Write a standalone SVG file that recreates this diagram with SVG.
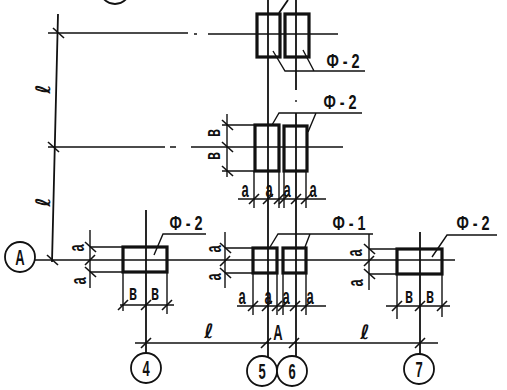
<svg xmlns="http://www.w3.org/2000/svg" width="507" height="390" viewBox="0 0 507 390">
<style>
.t{font-family:"Liberation Sans",Arial,sans-serif;font-weight:700;font-size:18px;fill:#111;text-anchor:middle;transform-box:fill-box;transform-origin:center;transform:scale(.72,1.25)}
.f{font-family:"Liberation Sans",Arial,sans-serif;font-weight:700;font-size:17px;fill:#111;text-anchor:middle;transform-box:fill-box;transform-origin:center;transform:scale(.85,1.2)}
.l{font-family:"DejaVu Sans",sans-serif;font-weight:700;font-size:20px;fill:#111;text-anchor:middle}
.thin{stroke:#111;stroke-width:1.4;fill:none}
.mid{stroke:#111;stroke-width:1.8;fill:none}
.col{stroke:#111;stroke-width:3.2;fill:none}
.c{stroke:#111;stroke-width:1.8;fill:#fff}
</style>
<defs>
<path id="f" d="M-5 5L5 -5" stroke="#111" stroke-width="1.6"/>
<path id="b" d="M-5 -5L6 5" stroke="#111" stroke-width="1.6"/>
</defs>
<rect width="507" height="390" fill="#fff"/>
<g id="connectors">
<path class="mid" d="M58 14L52 262M268 0V357M296 0V90M296 113V357M146 210V353M420 232V354"/>
<path class="thin" d="M48 33H188M194 34H197M208 34H338M48 147H165M170 147H176M191 147H343M35 260H193M190 260H455M296 100V102"/>
<path class="thin" d="M222 125H255M222 171H255M227 114V177M238 199H326M254 171V208M279 171V208M284 171V208M306 171V208"/>
<path class="thin" d="M90 230V288M90 247H123M90 272H123M120 305H174M123 272V311M167 272V314"/>
<path class="thin" d="M225 232V288M225 248H253M225 273H253M237 306H326M253 273V315M277 273V315M283 273V315M306 273V315"/>
<path class="thin" d="M369 234V290M369 249H397M369 274H397M386 306H450M397 274V319M442 274V317"/>
<path class="thin" d="M135 343H438"/>
<path class="mid" d="M279 13L288 0"/>
<path class="thin" d="M273 51L285 71H365M303 50L314 71M272 125L279 113H362M308 132L316 113M154 255L163 234H206M270 247L278 234H373M305 247L310 234M432 257L447 235H497"/>
<use href="#b" x="58" y="33"/><use href="#b" x="53" y="147"/><use href="#b" x="52" y="260"/>
<use href="#b" x="227" y="125"/><use href="#b" x="227" y="147"/><use href="#b" x="227" y="171"/>
<use href="#b" x="90" y="247"/><use href="#f" x="90" y="260"/><use href="#b" x="90" y="272"/>
<use href="#b" x="225" y="248"/><use href="#f" x="225" y="261"/><use href="#b" x="225" y="273"/>
<use href="#b" x="369" y="249"/><use href="#f" x="369" y="261"/><use href="#b" x="369" y="274"/>
<use href="#f" x="254" y="199"/><use href="#f" x="268" y="199"/><use href="#f" x="279" y="199"/><use href="#f" x="284" y="199"/><use href="#f" x="296" y="199"/><use href="#f" x="306" y="199"/>
<use href="#f" x="123" y="305"/><use href="#f" x="146" y="305"/><use href="#f" x="167" y="305"/>
<use href="#f" x="253" y="306"/><use href="#f" x="267" y="306"/><use href="#f" x="277" y="306"/><use href="#f" x="283" y="306"/><use href="#f" x="295" y="306"/><use href="#f" x="306" y="306"/>
<use href="#f" x="397" y="306"/><use href="#f" x="420" y="306"/><use href="#f" x="442" y="306"/>
<use href="#f" x="146" y="343"/><use href="#f" x="266" y="343"/><use href="#f" x="294" y="343"/><use href="#f" x="420" y="343"/>
</g>
<g id="column-top-left"><rect class="col" x="257" y="14" width="23" height="43"/></g>
<g id="column-top-right"><rect class="col" x="285" y="14" width="24" height="43"/></g>
<g id="column-mid-left"><rect class="col" x="255" y="125" width="24" height="46"/></g>
<g id="column-mid-right"><rect class="col" x="284" y="126" width="23" height="45"/></g>
<g id="column-a4"><rect class="col" x="123" y="247" width="44" height="25"/></g>
<g id="column-a5"><rect class="col" x="253" y="248" width="24" height="25"/></g>
<g id="column-a6"><rect class="col" x="283" y="248" width="23" height="25"/></g>
<g id="column-a7"><rect class="col" x="397" y="249" width="45" height="25"/></g>
<g id="axis-top"><circle class="c" cx="115" cy="-11" r="15"/></g>
<g id="axis-a"><circle class="c" cx="20" cy="257" r="15"/><text class="t" x="20" y="263">A</text></g>
<g id="axis-4"><circle class="c" cx="146" cy="368" r="15"/><text class="t" x="146" y="374">4</text></g>
<g id="axis-5"><circle class="c" cx="262" cy="371" r="15"/><text class="t" x="262" y="377">5</text></g>
<g id="axis-6"><circle class="c" cx="292" cy="371" r="15"/><text class="t" x="292" y="377">6</text></g>
<g id="axis-7"><circle class="c" cx="419" cy="369" r="15"/><text class="t" x="419" y="375">7</text></g>
<g id="labels">
<text class="f" x="343" y="67">Ф - 2</text>
<text class="f" x="340" y="108">Ф - 2</text>
<text class="f" x="186" y="229">Ф - 2</text>
<text class="f" x="349" y="229">Ф - 1</text>
<text class="f" x="473" y="229">Ф - 2</text>
<text class="t" x="245" y="195">a</text><text class="t" x="269" y="195">a</text><text class="t" x="287" y="195">a</text><text class="t" x="313" y="195">a</text>
<text class="t" x="242" y="302">a</text><text class="t" x="268" y="302">a</text><text class="t" x="286" y="302">a</text><text class="t" x="310" y="302">a</text>
<text class="t" x="133" y="298">в</text><text class="t" x="155" y="298">в</text><text class="t" x="409" y="301">в</text><text class="t" x="430" y="301">в</text>
<g transform="translate(218 133) rotate(-90)"><text class="t">в</text></g><g transform="translate(218 156) rotate(-90)"><text class="t">в</text></g>
<g transform="translate(82 248) rotate(-90)"><text class="t">a</text></g><g transform="translate(84 281) rotate(-90)"><text class="t">a</text></g>
<g transform="translate(219 249) rotate(-90)"><text class="t">a</text></g><g transform="translate(219 277) rotate(-90)"><text class="t">a</text></g>
<g transform="translate(360 253) rotate(-90)"><text class="t">a</text></g><g transform="translate(361 283) rotate(-90)"><text class="t">a</text></g>
<g transform="translate(50 89) rotate(-90)"><text class="l">ℓ</text></g><g transform="translate(50 202) rotate(-90)"><text class="l">ℓ</text></g>
<text class="l" x="209" y="338">ℓ</text><text class="l" x="365" y="339">ℓ</text>
<text class="t" x="278" y="338">A</text>
</g>
</svg>
